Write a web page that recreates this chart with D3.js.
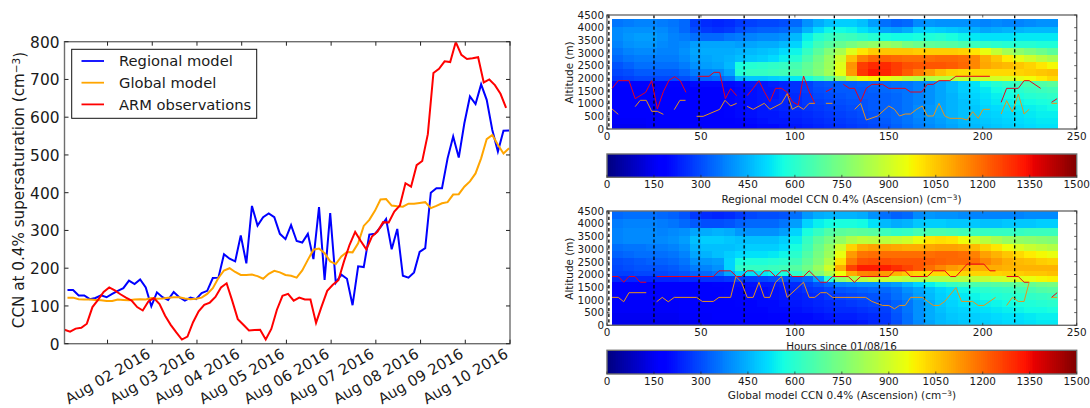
<!DOCTYPE html>
<html><head><meta charset="utf-8">
<script src="https://cdnjs.cloudflare.com/ajax/libs/d3/7.8.5/d3.min.js"></script>
<style>html,body{margin:0;padding:0;background:#fff}svg{display:block}text{font-family:"DejaVu Sans",sans-serif;fill:#1a1a1a}</style>
</head><body><svg id="c" width="1090" height="408"></svg>
<script>
const dateTicks=["2016-08-02","2016-08-03","2016-08-04","2016-08-05","2016-08-06","2016-08-07","2016-08-08","2016-08-09","2016-08-10","2016-08-11"];
const dateLabels=["Aug 02 2016","Aug 03 2016","Aug 04 2016","Aug 05 2016","Aug 06 2016","Aug 07 2016","Aug 08 2016","Aug 09 2016","Aug 10 2016",""];
const ccnTicks=[0,100,200,300,400,500,600,700,800];
const regionalSeries=[142,142,128,128,118,121,128,123,132,140,147,167,158,170,149,99,136,123,116,137,123,114,122,118,134,140,174,175,237,225,218,287,213,365,313,335,345,335,291,277,314,272,268,291,224,362,169,346,162,183,172,102,205,203,289,291,309,330,250,304,180,175,189,243,253,400,412,412,491,549,493,584,655,635,687,646,566,509,564,565];
const globalSeries=[122,122,118,117,117,116,115,113,113,117,116,115,117,118,117,121,119,120,122,123,123,120,118,119,122,132,147,174,194,200,190,182,182,183,179,172,185,193,189,182,180,175,194,222,249,252,240,218,211,231,243,242,266,312,328,352,382,383,366,364,363,371,371,373,375,359,365,372,375,395,396,416,430,451,491,542,553,527,504,518];
const armSeries=[37,32,40,42,53,97,116,137,149,141,131,122,114,97,88,112,121,105,74,50,30,11,19,57,86,103,109,124,149,160,114,65,50,35,36,37,11,39,90,127,132,114,122,117,117,55,99,140,156,168,218,262,296,272,250,284,297,322,321,350,366,425,416,473,484,555,717,728,748,746,799,765,754,756,759,692,700,685,662,625];
const legendNames=["Regional model","Global model","ARM observations"];
const hourTicks=[0,50,100,150,200,250];
const altitudeTicks=[0,500,1000,1500,2000,2500,3000,3500,4000,4500];
const colorTicks=[0,150,300,450,600,750,900,1050,1200,1350,1500];
const flightHours=[1,25,49,73,97,121,145,169,193,217];
const regionalEdges=[4330,4040,3780,3480,3200,2920,2650,2350,2100,1890,1650,1430,1200,950,700,450,200,0];
const globalEdges=[4500,4170,3840,3510,3220,2910,2650,2380,2150,1925,1700,1490,1260,1000,730,470,200,0];
const regionalGrid=[
[360,370,380,380,370,360,340,280,250,240,250,270,280,290,290,300,340,400,440,470,490,490,470,420,350,330,340,390,410,400,400,400,390,380,390,380,380,390,400,400],
[390,400,400,400,390,370,340,300,270,260,270,300,320,330,330,340,390,450,510,550,560,550,520,490,430,420,440,490,500,490,480,470,450,430,440,450,450,460,460,460],
[390,410,420,420,400,380,370,350,340,340,360,370,380,390,390,400,460,540,590,620,640,630,610,590,570,560,560,570,580,590,570,550,530,520,520,520,530,530,530,530],
[380,400,410,410,390,380,390,420,430,430,430,420,430,440,440,460,500,570,640,680,710,740,770,790,800,780,740,720,700,690,680,660,630,610,600,590,590,590,580,580],
[360,380,390,390,380,380,400,430,440,440,440,450,460,470,480,510,550,620,690,760,830,930,1000,1040,1050,1050,1050,1040,1040,1040,1040,1030,1000,950,880,820,780,750,720,690],
[340,360,370,370,370,370,390,420,430,440,450,470,480,490,510,540,590,660,730,800,900,1060,1160,1200,1210,1200,1190,1190,1190,1200,1200,1190,1150,1090,1050,990,940,900,860,830],
[310,330,350,350,350,350,370,400,420,430,460,570,590,600,610,620,650,700,750,810,930,1130,1270,1300,1300,1270,1240,1230,1230,1230,1220,1200,1150,1100,1080,1070,1050,1030,1000,970],
[290,300,320,320,320,320,340,370,380,390,430,590,620,620,630,640,670,710,760,820,940,1120,1280,1330,1310,1270,1220,1170,1110,1060,1030,1020,1020,1020,1020,1020,1030,1040,1050,1060],
[270,280,290,290,290,290,300,320,330,340,360,460,480,480,490,500,530,570,620,680,790,900,960,980,950,920,880,860,850,860,860,880,890,900,910,920,940,960,990,1020],
[190,190,190,190,190,190,190,200,200,200,200,210,220,220,230,240,260,280,310,320,320,320,330,340,340,350,360,380,400,430,460,490,520,560,590,610,630,650,670,690],
[170,170,170,170,170,170,170,180,180,180,190,200,210,220,220,240,260,280,300,310,320,320,320,330,340,350,360,380,400,430,460,490,510,530,560,580,600,620,630,640],
[170,170,170,170,170,170,170,180,180,180,190,200,210,220,220,240,250,270,290,300,310,320,320,320,330,340,360,380,400,430,450,480,500,520,540,560,570,590,600,610],
[170,170,170,170,170,170,180,180,180,180,190,200,210,220,230,240,250,270,280,290,300,310,310,320,330,340,360,380,400,430,450,470,490,510,530,540,550,560,570,580],
[170,170,170,170,170,170,180,180,180,180,190,200,210,220,230,240,250,260,270,280,290,300,310,320,330,340,360,390,410,430,450,470,480,500,510,520,530,540,550,560],
[170,170,170,170,170,170,180,180,180,180,190,200,210,220,220,230,240,250,260,270,280,290,300,310,330,340,360,390,410,430,450,470,480,490,500,510,520,530,540,540],
[160,160,160,170,170,170,170,170,170,180,180,190,200,210,220,220,230,240,250,260,270,280,290,300,320,340,360,380,400,420,440,460,470,480,490,500,510,520,530,530],
[150,150,150,160,160,160,170,170,170,170,180,180,190,200,200,210,220,230,240,250,260,270,280,290,310,330,350,370,390,410,430,450,460,470,480,490,500,510,520,520]];
const globalGrid=[
[340,350,350,350,340,330,310,270,250,240,250,270,290,300,300,310,350,410,440,450,450,450,440,400,350,330,340,390,410,400,400,390,380,380,380,380,380,390,390,390],
[370,380,380,380,370,360,340,320,300,300,310,330,340,340,340,360,420,500,540,560,570,570,560,520,460,440,450,480,490,490,480,480,480,470,470,480,480,480,490,490],
[380,390,390,390,380,390,400,430,440,450,440,410,400,400,400,420,500,570,620,670,690,700,690,680,630,610,620,650,660,660,650,640,630,620,620,620,620,630,630,630],
[380,390,390,390,390,400,420,470,490,490,480,470,470,470,470,490,540,620,690,740,790,840,870,860,860,880,900,950,1000,1010,1000,960,900,860,830,800,790,780,770,760],
[350,360,360,370,370,380,400,450,470,470,470,480,490,490,490,510,570,640,720,790,900,1030,1090,1110,1110,1100,1090,1090,1100,1110,1110,1100,1070,1030,1000,960,920,890,870,850],
[330,340,350,350,350,360,380,430,450,470,490,510,520,520,530,550,600,670,740,810,950,1120,1180,1190,1190,1190,1190,1190,1190,1200,1200,1190,1160,1110,1080,1050,1020,990,970,950],
[300,310,320,330,330,340,360,400,410,420,500,570,580,580,590,600,640,700,760,850,1010,1170,1230,1240,1240,1230,1230,1230,1220,1210,1200,1200,1190,1150,1120,1090,1070,1060,1040,1030],
[290,300,310,310,310,320,340,370,380,400,500,610,620,620,630,640,680,730,800,900,1090,1260,1320,1320,1320,1290,1260,1230,1190,1150,1120,1100,1090,1090,1090,1080,1080,1080,1080,1080],
[280,280,290,290,290,300,310,330,340,360,430,500,520,530,550,570,610,680,760,840,960,1090,1150,1160,1120,1080,1050,1030,1020,1020,1020,1030,1030,1030,1030,1040,1040,1050,1050,1060],
[240,240,240,240,240,240,250,250,260,260,270,280,280,290,300,310,320,340,430,600,780,830,860,890,890,880,860,850,850,850,850,860,870,880,900,910,930,950,970,980],
[170,170,170,170,170,170,180,180,180,190,190,200,210,220,220,230,250,280,310,340,380,390,400,400,400,420,460,500,540,580,620,640,660,670,680,690,700,710,730,740],
[170,170,170,170,170,170,170,180,180,180,190,190,200,200,210,220,240,260,270,290,310,320,330,340,340,360,400,430,470,500,520,550,580,600,610,620,640,650,670,680],
[170,170,170,170,170,170,170,180,180,180,190,190,200,200,210,220,230,240,250,270,280,290,300,310,320,350,380,420,460,490,510,530,550,570,580,590,600,610,620,630],
[160,160,160,160,160,160,170,170,170,180,180,190,190,200,200,210,220,230,240,250,260,270,280,290,300,330,360,400,440,480,500,520,530,540,550,560,570,580,590,600],
[160,160,160,160,160,160,170,170,170,170,180,180,190,190,200,200,210,220,230,240,250,250,260,270,280,320,360,400,440,470,490,500,510,520,530,540,550,560,560,570],
[150,150,150,150,150,150,160,160,160,170,170,180,180,180,190,190,200,200,210,220,230,230,240,250,270,310,350,400,440,460,480,490,490,500,510,520,520,530,540,540],
[140,140,140,140,140,140,150,150,160,160,160,170,170,180,180,180,190,200,200,200,210,210,220,240,260,300,350,390,430,460,470,480,490,490,500,510,510,520,530,530]];
const regionalTop=[[2.7,1605],[6,1908],[11.7,1908],[15,1198],[20.6,1447],[23.8,1908],[26.8,790],[30,1474],[33,1921],[36,2066],[39,1908],[42,1447],null,[48.2,2080],[54.3,2080],[57,2237],[60,2237],[63,1198],[65.8,1592],[69,1316],null,[74.6,1316],[77.8,1605],[80.9,1908],[83.7,1474],[86.7,1079],[89.7,1605],[92.9,1605],[95.9,1447],[98.6,1079],[101.8,947],[104.6,2092],[107.6,1474],[110.6,1013],null,[116.5,1474],[120,1605],null,[125.8,1763],[129,1605],[131.8,1605],[135,1079],[138,1605],[141,1763],[146.7,1763],[150,1605],[158.7,1605],[161.6,1460],[167.5,1460],[170.5,1763],[173.7,1763],[176.7,1908],[182.5,1908],[185.7,2080],[203.8,2080],null,[209.8,1053],[212.7,1605],[218.9,1605],[222,1908],[224.7,1908],[230.8,1605],null,[236.6,1053],[239.6,1198]];
const regionalBase=[[2.7,790],[6,579],null,[15,882],[17.7,1132],[20.9,1132],[23.8,697],[26.8,697],[30,579],null,[35.8,763],[38.8,1132],[41.8,1132],null,[47.7,500],[51.2,500],[60,776],[62.8,1132],[65.8,908],[69,1013],null,[74.6,895],[77.8,776],[83.7,1013],[86.7,776],[92.9,1013],[95.9,1395],[98.6,776],[101.8,908],[104.6,776],[107.6,1013],[110.6,1013],null,[116.5,1013],[120,1013],null,[131.8,776],[135,1013],[138,355],[144,513],[150,908],[153,776],[155.7,513],[158.7,592],[161.6,592],[164.8,776],[167.8,908],[170.5,513],[173.7,513],[176.7,1013],[179.8,513],[182.5,421],[188.7,421],[191.7,355],[194.6,684],[197.6,421],[200.2,776],[203.8,776],null,[209.8,592],[212.7,1119],[215.8,671],[218.9,1382],[222,592],[224.7,776],null,[236.6,1013],[239.6,1013]];
const globalTop=[[2.7,1920],[6,1920],[8.9,1695],[11.7,1920],[14.9,1920],[17.7,1695],[20.9,1695],null,[26.4,1920],[56.6,1920],[59.6,2145],[65.8,2145],[69,1920],[71.6,1920],[74.6,2145],[77.8,2145],[80.9,1920],[83.7,2145],[86.7,2145],[89.7,1920],[92.9,2145],[95.9,2145],[98.6,1920],[104.6,1920],[107.6,2145],[113.7,1695],[116.9,1695],[120,1920],[128.4,1920],[131.7,1695],[135,1920],[150,1920],[153,2145],[158.7,2145],[161.6,1920],[170.5,1920],[173.7,2145],[179.8,2145],[182.8,1920],[185.7,1920],[191.7,2410],[200.6,2410],[203.8,2145],[206.8,2145],null,[212.7,1920],[218.9,1920],[222,1695],[224.7,1695],null,[236.6,1099],[239.6,1284]];
const globalBase=[[2.7,1099],[6,1099],[8.9,927],[11.7,1284],[20.9,1284],null,[26.4,927],[29.4,1099],[32.6,927],[35.8,1099],[47.7,1099],[50.7,940],[56.6,940],[59.6,1099],[65.8,1099],[68.6,1920],[71.6,1695],[74.6,1099],[77.8,1099],[80.9,1695],[83.7,1099],[86.7,1099],[89.7,1695],[92.9,1920],[95.9,1099],[104.6,1695],[107.6,1099],[110.6,1099],[113.7,1284],[116.9,1284],[120,1099],[137.7,1099],[141,940],[146.7,781],[150,781],[153,649],[155.7,781],[158.7,781],[161.6,1099],[167.8,1099],[173.7,781],[176.7,781],[179.8,940],[185.7,1483],[188.7,940],[194.6,940],[197.6,781],[200.6,781],[206.8,1099],null,[212.7,781],[215.8,1099],[218.9,940],[222,940],[224.7,1695],null,[236.6,1099],[239.6,1099]];

const svg=d3.select("#c");
const SP="#6e6e6e";
const jr=d3.scaleLinear([0,.35,.66,.89,1],[0,0,1,1,.5]);
const jg=d3.scaleLinear([0,.125,.375,.64,.91,1],[0,0,1,1,0,0]);
const jb=d3.scaleLinear([0,.11,.34,.65,1],[.5,1,1,0,0]);
const jet=f=>`rgb(${Math.round(jr(f)*255)},${Math.round(jg(f)*255)},${Math.round(jb(f)*255)})`;
const colorFrac=d3.scaleLinear([0,1500],[0,1]);

function frame(g,w,h){g.append("rect").attr("width",w).attr("height",h).attr("fill","none").attr("stroke",SP).attr("stroke-width",1.4);}

(function(){
 const L=64.5,R=510,T=41.7,B=343.7;
 const x=d3.scaleTime([new Date(2016,7,1,0,54),new Date(2016,7,11)],[L,R]);
 const y=d3.scaleLinear([0,800],[B,T]);
 const g=svg.append("g");
 const t0=new Date(2016,7,1,0,54).getTime(), t1=new Date(2016,7,1,2,30).getTime(), H=3*3600e3;
 const line=d3.line().x(d=>x(new Date(d.t))).y(d=>y(d.v));
 svg.append("defs").append("clipPath").attr("id","lc").append("rect").attr("x",L).attr("y",T).attr("width",R-L).attr("height",B-T);
 const plot=(vals,start,col)=>g.append("path").attr("clip-path","url(#lc)").attr("d",line(vals.map((v,i)=>({t:start+i*H,v})))).attr("fill","none").attr("stroke",col).attr("stroke-width",2).attr("stroke-linejoin","miter");
 plot(regionalSeries,t1,"#0000ff");plot(globalSeries,t1,"#ffa500");plot(armSeries,t0,"#ff0000");
 const f=g.append("g").attr("transform",`translate(${L},${T})`);frame(f,R-L,B-T);
 const tk=dateTicks.map(d=>{const p=d.split("-");return new Date(+p[0],+p[1]-1,+p[2]);});
 const ya=d3.axisLeft(y).tickValues(ccnTicks).tickSize(0).tickPadding(5);
 const ax=g.append("g").attr("transform",`translate(${L},0)`).call(ya);ax.select(".domain").remove();
 ax.selectAll("text").attr("font-size",15.4).attr("dy","0.36em");
 ccnTicks.forEach(v=>{
  g.append("line").attr("x1",L).attr("x2",L+4).attr("y1",y(v)).attr("y2",y(v)).attr("stroke","#222");
  g.append("line").attr("x1",R-4).attr("x2",R).attr("y1",y(v)).attr("y2",y(v)).attr("stroke","#222");
 });
 tk.forEach((d,i)=>{
  const px=x(d);
  g.append("line").attr("x1",px).attr("x2",px).attr("y1",B).attr("y2",B-4).attr("stroke","#222");
  g.append("line").attr("x1",px).attr("x2",px).attr("y1",T).attr("y2",T+4).attr("stroke","#222");
  if(dateLabels[i]) g.append("text").attr("transform",`translate(${px},376) rotate(-30)`).attr("text-anchor","middle").attr("dy","0.36em").attr("font-size",14.9).text(dateLabels[i]);
 });
 const yl=g.append("text").attr("transform","translate(19,190) rotate(-90)").attr("text-anchor","middle").attr("dy","0.36em").attr("font-size",15.2);
 yl.append("tspan").text("CCN at 0.4% supersaturation (cm");
 yl.append("tspan").text("−3").attr("font-size",10.5).attr("dy","-0.45em");
 yl.append("tspan").text(")").attr("dy","0.32em");
 const lg=g.append("g");
 lg.append("rect").attr("x",71.7).attr("y",49.3).attr("width",185).attr("height",69).attr("fill","#fff").attr("stroke","#111").attr("stroke-width",1);
 ["#0000ff","#ffa500","#ff0000"].forEach((c,i)=>{
  const yy=61+i*21.7;
  lg.append("line").attr("x1",81.5).attr("x2",104).attr("y1",yy).attr("y2",yy).attr("stroke",c).attr("stroke-width",1.8);
  lg.append("text").attr("x",119).attr("y",yy).attr("dy","0.36em").attr("font-size",14.7).text(legendNames[i]);
 });
})();

function panel(top,bottom,grid,edges,up,low,opt){
 const L=607,R=1076.7;
 const x=d3.scaleLinear([0,250],[L,R]);
 const y=d3.scaleLinear([0,4500],[bottom,top]);
 const g=svg.append("g");
 const col=d3.scaleLinear([0,40],[2.7,240]);
 grid.forEach((row,r)=>row.forEach((v,c)=>{
  g.append("rect").attr("x",x(col(c))).attr("width",x(col(c+1))-x(col(c))+.3)
   .attr("y",y(edges[r])).attr("height",y(edges[r+1])-y(edges[r])+.3)
   .attr("fill",jet(colorFrac(v))).attr("shape-rendering","crispEdges");
 }));
 flightHours.forEach(h=>g.append("line").attr("x1",x(h)).attr("x2",x(h)).attr("y1",top).attr("y2",bottom).attr("stroke","#000").attr("stroke-width",1.3).attr("stroke-dasharray","3.3,2.4"));
 const ln=d3.line().defined(d=>d!==null).x(d=>x(d[0])).y(d=>y(d[1]));
 g.append("path").attr("d",ln(up)).attr("fill","none").attr("stroke","#e8001c").attr("stroke-width",1);
 g.append("path").attr("d",ln(low)).attr("fill","none").attr("stroke","#e8931a").attr("stroke-width",1);
 const f=g.append("g").attr("transform",`translate(${L},${top})`);frame(f,R-L,bottom-top);
 altitudeTicks.forEach(v=>{
  g.append("line").attr("x1",L).attr("x2",L+2.5).attr("y1",y(v)).attr("y2",y(v)).attr("stroke","#222").attr("stroke-width",.7);
  g.append("line").attr("x1",R-2.5).attr("x2",R).attr("y1",y(v)).attr("y2",y(v)).attr("stroke","#222").attr("stroke-width",.7);
  g.append("text").attr("x",L-3).attr("y",y(v)).attr("dy","0.36em").attr("text-anchor","end").attr("font-size",10.4).text(v);
 });
 hourTicks.forEach(v=>{
  g.append("line").attr("x1",x(v)).attr("x2",x(v)).attr("y1",bottom).attr("y2",bottom-2.5).attr("stroke","#222").attr("stroke-width",.7);
  g.append("line").attr("x1",x(v)).attr("x2",x(v)).attr("y1",top).attr("y2",top+2.5).attr("stroke","#222").attr("stroke-width",.7);
  g.append("text").attr("x",x(v)).attr("y",bottom+7).attr("dy","0.36em").attr("text-anchor","middle").attr("font-size",10.4).text(v);
 });
 g.append("text").attr("transform",`translate(569,${(top+bottom)/2+.5}) rotate(-90)`).attr("text-anchor","middle").attr("dy","0.36em").attr("font-size",10.4).text("Altitude (m)");
 if(opt.xlabel) g.append("text").attr("x",841.5).attr("y",bottom+21).attr("dy","0.36em").attr("text-anchor","middle").attr("font-size",10.4).text(opt.xlabel);
 const cx=d3.scaleLinear([0,1500],[L,R]);
 const steps=d3.range(0,1500,6);
 steps.forEach(v=>g.append("rect").attr("x",cx(v)).attr("width",cx(v+6)-cx(v)+.3).attr("y",opt.cbT).attr("height",opt.cbB-opt.cbT).attr("fill",jet(colorFrac(v+3))).attr("shape-rendering","crispEdges"));
 const f2=g.append("g").attr("transform",`translate(${L},${opt.cbT})`);frame(f2,R-L,opt.cbB-opt.cbT);
 colorTicks.forEach(v=>{
  g.append("line").attr("x1",cx(v)).attr("x2",cx(v)).attr("y1",opt.cbB).attr("y2",opt.cbB-2.5).attr("stroke","#222").attr("stroke-width",.7);
  g.append("text").attr("x",cx(v)).attr("y",opt.cbB+7).attr("dy","0.36em").attr("text-anchor","middle").attr("font-size",10.4).text(v);
 });
 const t=g.append("text").attr("x",opt.cbLx).attr("y",opt.cbB+21.5).attr("dy","0.36em").attr("text-anchor","middle").attr("font-size",10.5);
 t.append("tspan").text(opt.cbLabel+" (cm");
 t.append("tspan").text("−3").attr("font-size",7.4).attr("dy","-0.4em");
 t.append("tspan").text(")").attr("dy","0.3em");
}
panel(15,129,regionalGrid,regionalEdges,regionalTop,regionalBase,{cbT:154,cbB:177.3,cbLabel:"Regional model CCN 0.4% (Ascension)",cbLx:841.5});
panel(211,325.3,globalGrid,globalEdges,globalTop,globalBase,{xlabel:"Hours since 01/08/16",cbT:350.3,cbB:374,cbLabel:"Global model CCN 0.4% (Ascension)",cbLx:842});
</script></body></html>
